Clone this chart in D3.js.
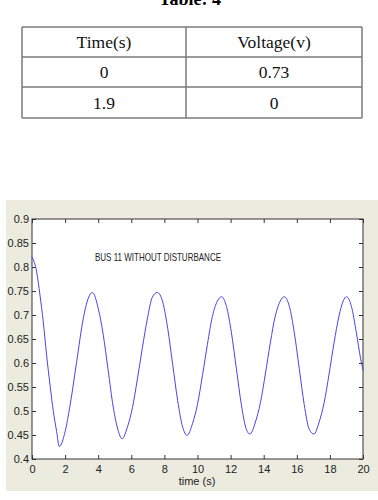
<!DOCTYPE html>
<html>
<head>
<meta charset="utf-8">
<script src="https://cdn.jsdelivr.net/npm/d3@7"></script>
<style>
  html, body { margin: 0; padding: 0; background: #ffffff; }
  svg { display: block; }
</style>
</head>
<body>
<svg id="chart" width="378" height="500"></svg>
<script>
// ---- Data ----
const tableTitle = "Table: 4";
const tableHeaders = ["Time(s)", "Voltage(v)"];
const tableRows = [["0", "0.73"], ["1.9", "0"]];

const chartLabel = "BUS 11 WITHOUT DISTURBANCE";
const xAxisLabel = "time (s)";
const xTicks = [0, 2, 4, 6, 8, 10, 12, 14, 16, 18, 20];
const yTicks = [0.4, 0.45, 0.5, 0.55, 0.6, 0.65, 0.7, 0.75, 0.8, 0.85, 0.9];
const yTickLabels = ["0.4", "0.45", "0.5", "0.55", "0.6", "0.65", "0.7", "0.75", "0.8", "0.85", "0.9"];

const time = [0, 0.28, 0.48, 0.68, 0.88, 1.09, 1.29, 1.49, 1.65, 2.0, 2.3, 2.7, 3.1, 3.4, 3.65,
  4.0, 4.3, 4.6, 4.9, 5.2, 5.44, 5.77, 6.07, 6.37, 6.67, 6.97, 7.27, 7.57,
  7.9, 8.2, 8.5, 8.8, 9.1, 9.37, 9.7, 10.0, 10.3, 10.6, 10.9, 11.2, 11.45,
  11.75, 12.05, 12.35, 12.65, 12.95, 13.17, 13.5, 13.8, 14.1, 14.4, 14.7, 15.0, 15.24,
  15.55, 15.85, 16.15, 16.45, 16.75, 17.04, 17.35, 17.65, 17.95, 18.25, 18.55, 18.8, 19.0,
  19.3, 19.6, 19.85, 20.0];
const voltage = [0.821, 0.79, 0.742, 0.686, 0.617, 0.554, 0.499, 0.457, 0.426, 0.457, 0.512, 0.603, 0.693, 0.735, 0.747,
  0.714, 0.66, 0.585, 0.51, 0.46, 0.442, 0.467, 0.507, 0.567, 0.632, 0.692, 0.737, 0.747,
  0.727, 0.672, 0.597, 0.522, 0.467, 0.449, 0.474, 0.514, 0.574, 0.639, 0.697, 0.729, 0.738,
  0.718, 0.663, 0.588, 0.513, 0.462, 0.452, 0.477, 0.517, 0.577, 0.642, 0.698, 0.729, 0.738,
  0.718, 0.663, 0.588, 0.513, 0.462, 0.452, 0.477, 0.517, 0.577, 0.642, 0.698, 0.729, 0.738,
  0.718, 0.663, 0.61, 0.585];

// ---- Drawing ----
const svg = d3.select("#chart");

// Table
const serif = "'Liberation Serif', 'Times New Roman', serif";
svg.append("text").attr("x", 190).attr("y", 5).attr("text-anchor", "middle")
  .style("font-family", serif).style("font-size", "18px").style("font-weight", "bold")
  .attr("fill", "#000").text(tableTitle);

const tX = [22, 186, 362];
const tY = [27, 57, 87, 118];
const tbl = svg.append("g");
tY.forEach(y => tbl.append("line").attr("x1", tX[0]).attr("x2", tX[2]).attr("y1", y).attr("y2", y)
  .attr("stroke", "#7a7a7a").attr("stroke-width", 1.5));
tX.forEach(x => tbl.append("line").attr("x1", x).attr("x2", x).attr("y1", tY[0]).attr("y2", tY[3])
  .attr("stroke", "#7a7a7a").attr("stroke-width", 1.5));
const allRows = [tableHeaders].concat(tableRows);
allRows.forEach((row, ri) => {
  row.forEach((cell, ci) => {
    tbl.append("text")
      .attr("x", (tX[ci] + tX[ci + 1]) / 2)
      .attr("y", (tY[ri] + tY[ri + 1]) / 2 + 6)
      .attr("text-anchor", "middle")
      .style("font-family", serif).style("font-size", "17.5px")
      .attr("fill", "#111").text(cell);
  });
});

// Chart panel
svg.append("rect").attr("x", 6).attr("y", 200).attr("width", 372).attr("height", 291)
  .attr("fill", "#ECEBDF");

const plot = { left: 32, right: 363, top: 219, bottom: 459 };
svg.append("rect").attr("x", plot.left).attr("y", plot.top)
  .attr("width", plot.right - plot.left).attr("height", plot.bottom - plot.top)
  .attr("fill", "#ffffff");

const x = d3.scaleLinear().domain([0, 20]).range([plot.left, plot.right]);
const y = d3.scaleLinear().domain([0.4, 0.9]).range([plot.bottom, plot.top]);

const sans = "'Liberation Sans Narrow', 'Liberation Sans', Arial, sans-serif";
const tickLen = 4;

// bottom axis (inward ticks)
const gx = svg.append("g").attr("transform", `translate(0,${plot.bottom})`)
  .call(d3.axisBottom(x).tickValues(xTicks).tickSize(-tickLen).tickPadding(6).tickFormat(d3.format("d")));
// top axis ticks
const gxt = svg.append("g").attr("transform", `translate(0,${plot.top})`)
  .call(d3.axisTop(x).tickValues(xTicks).tickSize(-tickLen).tickFormat(""));
// left axis
const ylabelMap = new Map(yTicks.map((v, i) => [v, yTickLabels[i]]));
const gy = svg.append("g").attr("transform", `translate(${plot.left},0)`)
  .call(d3.axisLeft(y).tickValues(yTicks).tickSize(-tickLen).tickPadding(3).tickFormat(d => ylabelMap.get(d)));
// right axis ticks
const gyr = svg.append("g").attr("transform", `translate(${plot.right},0)`)
  .call(d3.axisRight(y).tickValues(yTicks).tickSize(-tickLen).tickFormat(""));

[gx, gxt, gy, gyr].forEach(g => {
  g.select(".domain").remove();
  g.selectAll(".tick line").attr("stroke", "#333");
  g.selectAll("text").style("font-family", sans).style("font-size", "11px").attr("fill", "#222");
});

// box
svg.append("rect").attr("x", plot.left).attr("y", plot.top)
  .attr("width", plot.right - plot.left).attr("height", plot.bottom - plot.top)
  .attr("fill", "none").attr("stroke", "#333").attr("stroke-width", 1);

// line
const data = time.map((t, i) => ({ t, v: voltage[i] }));
svg.append("path").datum(data)
  .attr("fill", "none").attr("stroke", "#4646E6").attr("stroke-width", 1)
  .attr("d", d3.line().x(d => x(d.t)).y(d => y(d.v)).curve(d3.curveMonotoneX));

// annotation
svg.append("text").attr("x", 95).attr("y", 261)
  .style("font-family", sans).style("font-size", "11px").attr("fill", "#222")
  .attr("textLength", 126).attr("lengthAdjust", "spacingAndGlyphs")
  .text(chartLabel);

// x label
svg.append("text").attr("x", 197).attr("y", 485).attr("text-anchor", "middle")
  .style("font-family", sans).style("font-size", "11px").attr("fill", "#222")
  .text(xAxisLabel);
</script>
</body>
</html>
